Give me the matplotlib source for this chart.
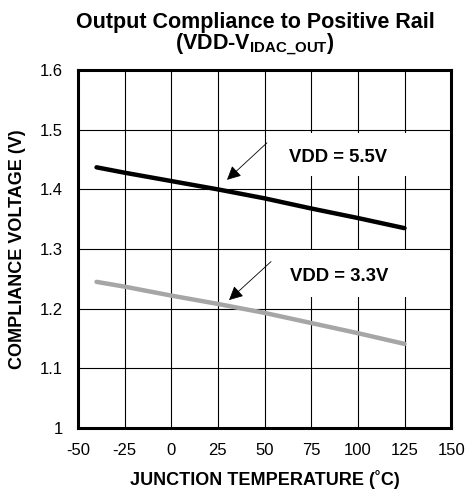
import matplotlib
matplotlib.use('Agg')
import matplotlib.pyplot as plt
from matplotlib.patches import Rectangle

# junction temperature (C) and compliance voltage (V)
temps = [-40, -25, 0, 25, 50, 75, 100, 125]
vdd_55 = [1.437, 1.428, 1.414, 1.400, 1.385, 1.368, 1.352, 1.335]
vdd_33 = [1.245, 1.237, 1.222, 1.208, 1.193, 1.176, 1.159, 1.141]

x_ticks = [-50, -25, 0, 25, 50, 75, 100, 125, 150]
y_ticks = [1.0, 1.1, 1.2, 1.3, 1.4, 1.5, 1.6]
y_labels = ['1', '1.1', '1.2', '1.3', '1.4', '1.5', '1.6']

plt.rcParams['font.family'] = ['Liberation Sans', 'DejaVu Sans']
plt.rcParams['axes.unicode_minus'] = False
plt.rcParams['mathtext.fontset'] = 'custom'
plt.rcParams['mathtext.bf'] = 'Liberation Sans:bold'
plt.rcParams['mathtext.rm'] = 'Liberation Sans:bold'

fig = plt.figure(figsize=(4.69, 4.90), dpi=100)
ax = fig.add_axes([0.166, 0.1265, 0.796, 0.7305])

ax.set_xlim(-50, 150)
ax.set_ylim(1.0, 1.6)
ax.set_xticks(x_ticks)
ax.set_yticks(y_ticks)
ax.set_yticklabels(y_labels)
ax.tick_params(length=0, labelsize=12)
ax.tick_params(axis='y', pad=11)
ax.tick_params(axis='x', pad=11)

ax.set_axisbelow(True)
ax.grid(True, color='black', linewidth=0.8)
for s in ax.spines.values():
    s.set_linewidth(2.2)

# white boxes behind the labels
ax.add_patch(Rectangle((52, 1.422), 92, 0.072, facecolor='white', edgecolor='none', zorder=1))
ax.add_patch(Rectangle((52, 1.220), 92, 0.078, facecolor='white', edgecolor='none', zorder=1))

ax.plot(temps, vdd_55, color='black', linewidth=3.2, solid_capstyle='round', zorder=3)
ax.plot(temps, vdd_33, color='#a6a6a6', linewidth=3.2, solid_capstyle='round', zorder=3)

ax.annotate('', xy=(29.9, 1.416), xytext=(51.3, 1.478),
            arrowprops=dict(arrowstyle='-|>', color='black', lw=0.6,
                            mutation_scale=21, shrinkA=0, shrinkB=0), zorder=4)
ax.annotate('', xy=(31, 1.2145), xytext=(53.5, 1.279),
            arrowprops=dict(arrowstyle='-|>', color='black', lw=0.6,
                            mutation_scale=21, shrinkA=0, shrinkB=0), zorder=4)

ax.text(89.5, 1.454, 'VDD = 5.5V', fontsize=13.3, fontweight='bold', ha='center', va='center', zorder=5)
ax.text(90, 1.254, 'VDD = 3.3V', fontsize=13.3, fontweight='bold', ha='center', va='center', zorder=5)

ax.set_xlabel('JUNCTION TEMPERATURE (˚C)', fontsize=13, fontweight='bold')
ax.set_ylabel('COMPLIANCE VOLTAGE (V)', fontsize=13, fontweight='bold')
ax.xaxis.set_label_coords(0.5, -0.145)
ax.yaxis.set_label_coords(-0.161, 0.5)
ax.xaxis.label.set_va('center')
ax.yaxis.label.set_va('center')

fig.text(0.544, 0.955, 'Output Compliance to Positive Rail', fontsize=15.5, fontweight='bold',
         ha='center', va='center')
fig.text(0.544, 0.908, r'(VDD-V$_{\mathbf{IDAC\_OUT}}$)', fontsize=15.5, fontweight='bold',
         ha='center', va='center')

fig.savefig('out.png', dpi=100)
